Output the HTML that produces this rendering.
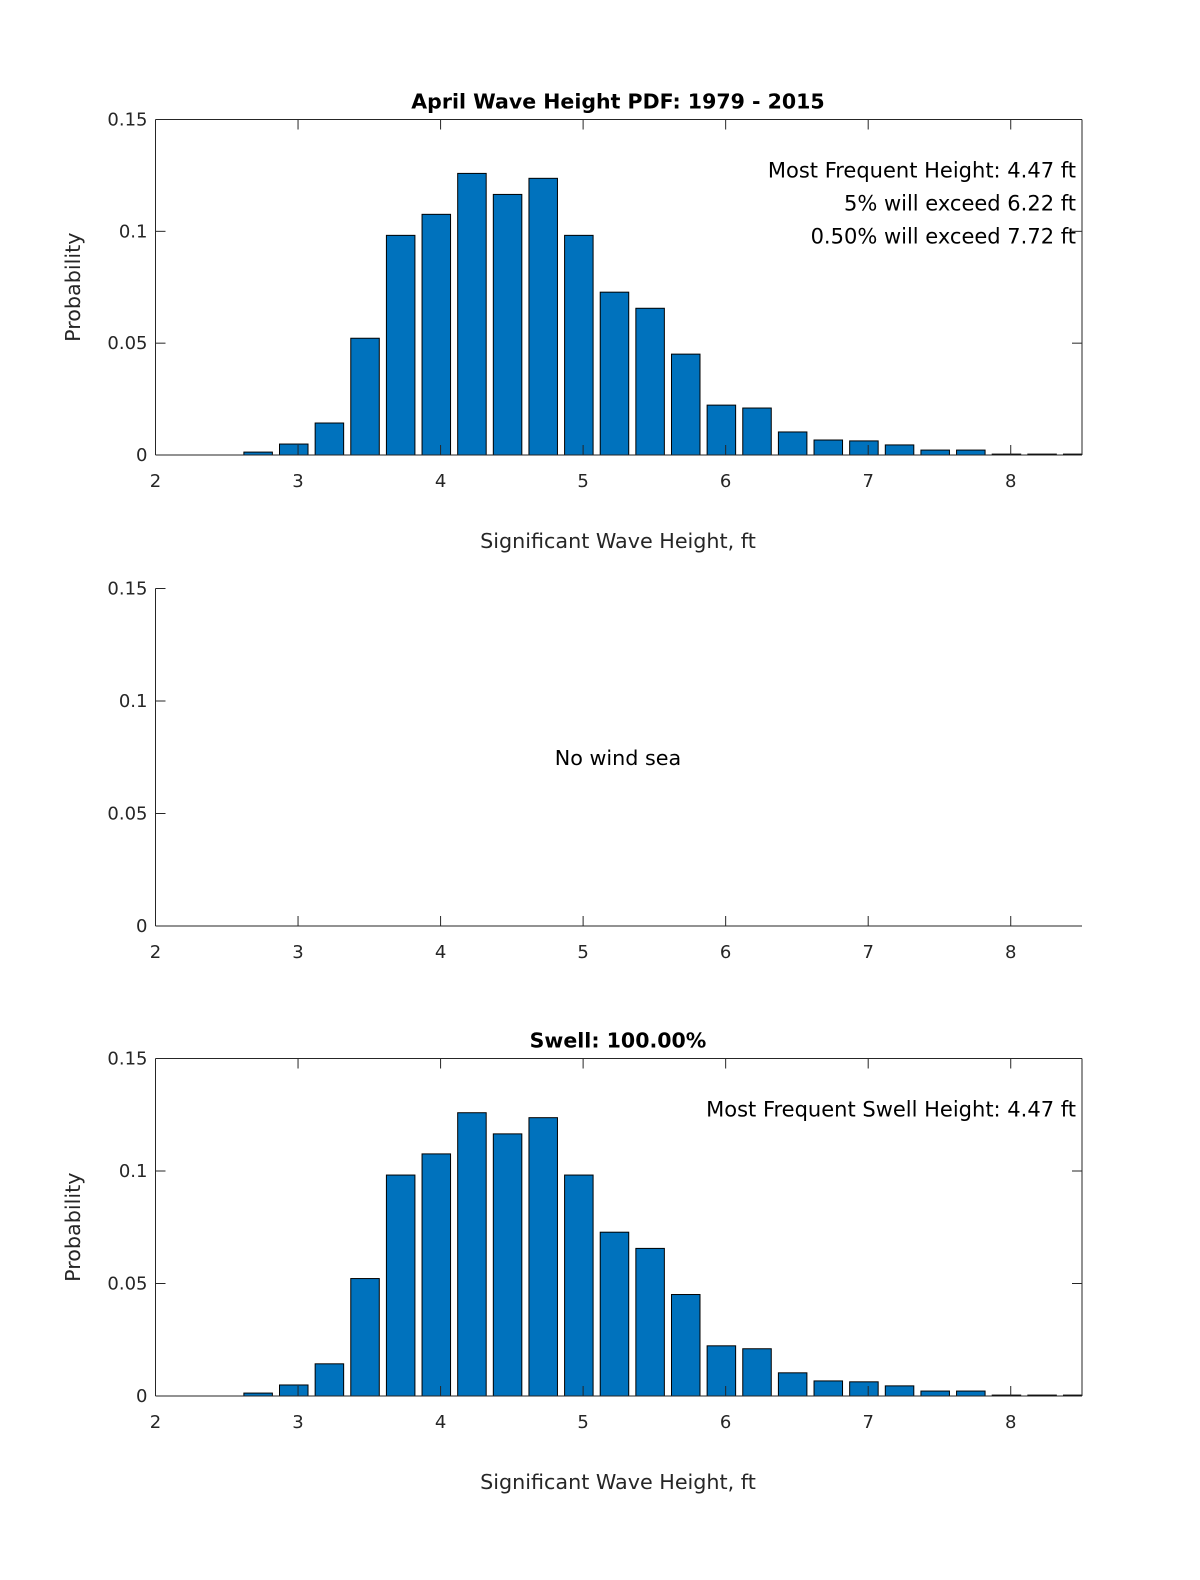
<!DOCTYPE html>
<html><head><meta charset="utf-8"><style>
body{margin:0;background:#fff}
svg text{font-family:"DejaVu Sans","Liberation Sans",sans-serif;fill:#262626}
</style></head><body>
<svg id="fig" width="1200" height="1575" viewBox="0 0 1200 1575" xmlns="http://www.w3.org/2000/svg">
<rect width="1200" height="1575" fill="#fff"/>
</svg>
<script>
const centers=[2.72,2.97,3.22,3.47,3.72,3.97,4.22,4.47,4.72,4.97,5.22,5.47,5.72,5.97,6.22,6.47,6.72,6.97,7.22,7.47,7.72,7.97,8.22,8.47];
const probTotal=[0.0013,0.0049,0.0143,0.0522,0.0982,0.1076,0.1259,0.1165,0.1237,0.0982,0.0728,0.0656,0.0451,0.0223,0.021,0.0103,0.0067,0.0063,0.0045,0.0022,0.0022,0.0004,0.0004,0.0004];
const probSwell=[0.0013,0.0049,0.0143,0.0522,0.0982,0.1076,0.1259,0.1165,0.1237,0.0982,0.0728,0.0656,0.0451,0.0223,0.021,0.0103,0.0067,0.0063,0.0045,0.0022,0.0022,0.0004,0.0004,0.0004];
const xTicks=[2,3,4,5,6,7,8];
const yTicks=[0,0.05,0.1,0.15];
const yTickLabels=['0','0.05','0.1','0.15'];
const NS='http://www.w3.org/2000/svg';
const svg=document.getElementById('fig');
const L=155.5,R=1082,XMIN=2,XMAX=8.5,YMAX=0.15;
function mk(tag,attrs,parent,text){const e=document.createElementNS(NS,tag);for(const k in attrs)e.setAttribute(k,attrs[k]);if(text!==undefined)e.textContent=text;(parent||svg).appendChild(e);return e;}
function panel(idx,top,bottom,data,opts){
  const g=mk('g',{});
  
  
  const xs=v=>L+(v-XMIN)/(XMAX-XMIN)*(R-L);
  const ys=v=>bottom-v/YMAX*(bottom-top);
  const cid='clip'+idx;
  const cp=mk('clipPath',{id:cid},g);mk('rect',{x:L,y:top,width:R-L,height:bottom-top},cp);
  if(data){
    const bg=mk('g',{'clip-path':'url(#'+cid+')'},g);
    const w=0.2*(R-L)/(XMAX-XMIN);
    data.forEach((v,i)=>{
      const r=mk('rect',{x:xs(centers[i])-w/2,y:ys(v),width:w,height:bottom-ys(v),fill:'#0072bd',stroke:'#000','stroke-width':1},bg);
      
      
    });
  }
  mk('line',{x1:L,y1:top,x2:L,y2:bottom,stroke:'#262626','stroke-width':1},g);
  mk('line',{x1:L,y1:bottom,x2:R,y2:bottom,stroke:'#262626','stroke-width':1},g);
  if(opts.box){
    mk('line',{x1:L,y1:top,x2:R,y2:top,stroke:'#262626','stroke-width':1},g);
    mk('line',{x1:R,y1:top,x2:R,y2:bottom,stroke:'#262626','stroke-width':1},g);
  }
  xTicks.forEach(t=>{
    const x=xs(t);
    mk('line',{x1:x,y1:bottom,x2:x,y2:bottom-10,stroke:'#262626'},g);
    if(opts.box)mk('line',{x1:x,y1:top,x2:x,y2:top+10,stroke:'#262626'},g);
    const tl=mk('text',{x:x,y:bottom+32,'text-anchor':'middle','font-size':18},g,String(t));
    
    
  });
  yTicks.forEach((t,i)=>{
    const y=ys(t);
    mk('line',{x1:L,y1:y,x2:L+10,y2:y,stroke:'#262626'},g);
    if(opts.box)mk('line',{x1:R,y1:y,x2:R-10,y2:y,stroke:'#262626'},g);
    const tl=mk('text',{x:L-8,y:y+6,'text-anchor':'end','font-size':18},g,yTickLabels[i]);
    
    
  });
  if(opts.title){const t=mk('text',{x:618,y:top-11,'text-anchor':'middle','font-size':20.5,'font-weight':'bold',style:'fill:#000'},g,opts.title);
    }
  if(opts.ylabel){const t=mk('text',{x:0,y:0,transform:'translate(80,'+((top+bottom)/2)+') rotate(-90)','text-anchor':'middle','font-size':20.7},g,'Probability');
    }
  if(opts.xlabel){const t=mk('text',{x:618,y:bottom+93,'text-anchor':'middle','font-size':20.7},g,'Significant Wave Height, ft');
    }
  (opts.notes||[]).forEach((n,i)=>{const t=mk('text',{x:1076,y:top+58+i*33,'text-anchor':'end','font-size':21,style:'fill:#000'},g,n);
    });
  if(opts.center){const t=mk('text',{x:618,y:765,'text-anchor':'middle','font-size':20.7,style:'fill:#000'},g,opts.center);
    }
}
panel(1,119.5,455,probTotal,{box:true,title:'April Wave Height PDF: 1979 - 2015',ylabel:true,xlabel:true,notes:['Most Frequent Height: 4.47 ft','5% will exceed 6.22 ft','0.50% will exceed 7.72 ft']});
panel(2,588.5,926,null,{box:false,center:'No wind sea'});
panel(3,1058.5,1396,probSwell,{box:true,title:'Swell: 100.00%',ylabel:true,xlabel:true,notes:['Most Frequent Swell Height: 4.47 ft']});
</script>
</body></html>
